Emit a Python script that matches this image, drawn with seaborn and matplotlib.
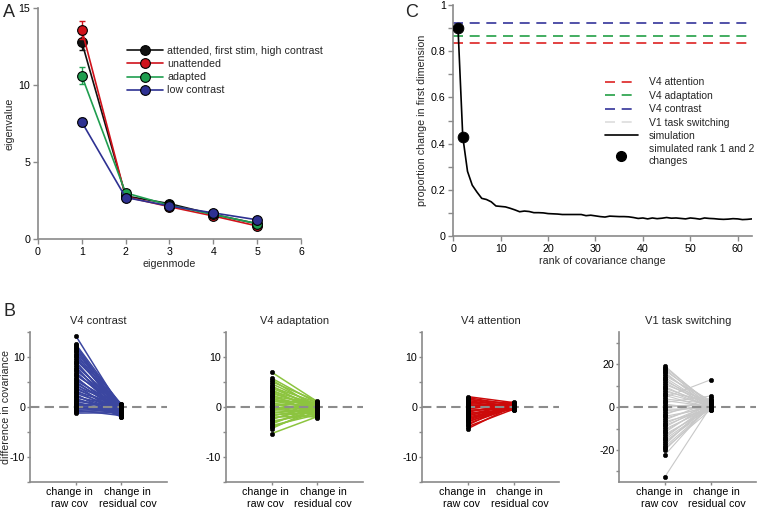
import numpy as np
import pandas as pd
import matplotlib
matplotlib.use('Agg')
import matplotlib.pyplot as plt
import matplotlib.transforms as mtransforms
from matplotlib.lines import Line2D
import seaborn as sns

# ---- panel A: eigenvalues per eigenmode ----
eigenmodes = [1, 2, 3, 4, 5]
eig_attended = [12.8, 2.8, 2.3, 1.6, 1.0]
eig_unattended = [13.6, 2.75, 2.1, 1.5, 0.85]
eig_adapted = [10.6, 3.0, 2.2, 1.6, 1.0]
eig_lowcontrast = [7.6, 2.7, 2.15, 1.7, 1.25]
sem_attended = [0.5, 0.1, 0.1, 0.1, 0.1]
sem_unattended = [0.6, 0.1, 0.1, 0.1, 0.1]
sem_adapted = [0.55, 0.1, 0.1, 0.1, 0.1]
sem_lowcontrast = [0.25, 0.1, 0.1, 0.1, 0.1]

# ---- panel C: simulation ----
ranks = list(range(1, 64))
sim_prop = [0.90, 0.43, 0.28, 0.22, 0.19, 0.163, 0.158, 0.148, 0.13, 0.128,
            0.126, 0.12, 0.113, 0.105, 0.108, 0.106, 0.101, 0.101, 0.100, 0.097,
            0.096, 0.095, 0.093, 0.093, 0.093, 0.093, 0.093, 0.088, 0.090, 0.087,
            0.084, 0.082, 0.086, 0.085, 0.084, 0.084, 0.083, 0.080, 0.076, 0.078,
            0.074, 0.078, 0.075, 0.077, 0.080, 0.077, 0.078, 0.076, 0.074, 0.078,
            0.076, 0.073, 0.078, 0.076, 0.075, 0.073, 0.072, 0.073, 0.075, 0.074,
            0.071, 0.072, 0.074]
sim_dot_ranks = [1, 2]
sim_dot_prop = [0.90, 0.43]
data_levels = {'V4 attention': 0.837, 'V4 adaptation': 0.867,
               'V4 contrast': 0.922, 'V1 task switching': None}

# ---- panel B: paired changes (raw cov -> residual cov) ----
raw_contrast = [14.3, 12.6, 12.4, 12.1, 11.8, 11.5, 11.2, 10.9, 10.5, 10.2,
                9.8, 9.5, 9.1, 8.8, 8.4, 8.1, 7.7, 7.4, 7.0, 6.7,
                6.4, 6.0, 5.7, 5.4, 5.1, 4.8, 4.5, 4.2, 3.9, 3.6,
                3.3, 3.0, 2.8, 2.5, 2.2, 2.0, 1.7, 1.5, 1.2, 1.0,
                0.8, 0.6, 0.4, 0.2, 0.1, 0.0, -0.2, -0.4, -0.6, -0.8,
                -1.0, -1.2]
res_contrast = [-0.4, 0.3, -0.8, 0.1, -1.2, 0.5, -0.3, -1.6, 0.2, -0.9,
                -0.1, 0.6, -1.4, -0.5, 0.0, -1.9, -0.7, 0.4, -1.1, -0.2,
                0.7, -1.5, -0.6, 0.1, -1.0, -0.3, -1.8, 0.3, -0.8, -0.1,
                -1.3, 0.5, -0.4, -2.0, -0.7, 0.2, -1.2, -0.5, 0.0, -1.6,
                -0.9, 0.4, -0.2, -1.4, -0.6, 0.1, -1.0, -0.3, -1.7, -0.8,
                -0.4, -1.1]
raw_adapt = [7.0, 5.8, 5.5, 5.1, 4.7, 4.3, 4.0, 3.8, 3.5, 3.2,
             3.0, 2.7, 2.5, 2.2, 2.0, 1.8, 1.5, 1.3, 1.1, 0.9,
             0.7, 0.5, 0.3, 0.1, -0.1, -0.3, -0.5, -0.7, -0.9, -1.1,
             -1.3, -1.5, -1.8, -2.0, -2.3, -2.5, -2.8, -3.1, -3.4, -3.7,
             -4.0, -4.3, -5.3]
res_adapt = [1.1, 0.8, -0.2, 1.2, 0.4, -0.6, 0.9, 0.1, -1.0, 0.6,
             -0.3, 0.3, -1.4, 0.7, 0.0, -0.8, 0.5, -0.4, 1.0, -1.2,
             0.2, -0.7, 0.8, -1.6, -0.1, 0.4, -0.9, 0.6, -2.1, -0.5,
             0.3, -1.1, 0.0, -1.8, -0.3, 0.5, -1.3, -0.6, 0.2, -1.5,
             -0.9, -0.2, -1.9]
raw_att = [2.1, 1.9, 1.7, 1.5, 1.3, 1.1, 0.9, 0.7, 0.5, 0.3,
           0.2, 0.0, -0.2, -0.4, -0.6, -0.8, -1.0, -1.2, -1.4, -1.6,
           -1.8, -2.0, -2.2, -2.4, -2.6, -2.8, -3.0, -3.3, -3.6, -3.9,
           -4.3]
res_att = [0.9, 0.4, -0.2, 0.7, 0.1, -0.5, 0.8, 0.3, -0.1, 0.6,
           0.0, -0.4, 0.5, 1.0, -0.3, 0.2, 0.7, -0.6, 0.4, -0.1,
           0.8, 0.1, -0.3, 0.6, 0.3, -0.2, 0.5, 0.0, 0.9, -0.4,
           0.2]
raw_v1 = [19.2, 18.5, 17.8, 17.0, 16.2, 15.5, 14.6, 13.8, 13.0, 12.1,
          11.3, 10.5, 9.6, 8.8, 8.0, 7.1, 6.3, 5.5, 4.6, 3.8,
          3.0, 2.2, 1.4, 0.6, -0.2, -1.0, -1.8, -2.7, -3.5, -4.3,
          -5.2, -6.0, -6.8, -7.7, -8.5, -9.3, -10.2, -11.0, -11.8, -12.7,
          -13.5, -14.3, -15.1, -16.0, -16.8, -17.6, -18.5, -19.3, -20.0, -22.3,
          -32.5]
res_v1 = [0.8, 1.5, 0.2, 2.4, -0.5, 1.1, 3.1, 0.4, -1.0, 1.8,
          0.6, 2.2, -0.3, 1.3, 0.0, 2.8, 0.9, -0.8, 12.8, 1.6,
          0.3, 5.2, -1.3, 1.0, 2.0, -0.6, 0.5, 1.4, 4.3, -0.2,
          0.7, 2.6, -1.1, 1.2, 0.1, 1.9, -0.4, 0.9, 2.3, -0.9,
          0.4, 1.7, 0.0, -0.7, 1.1, 2.9, 0.2, -1.2, 0.6, 1.5,
          0.3]
pair_categories = ['change in\nraw cov', 'change in\nresidual cov']
v4_yticks = [-15, -10, -5, 0, 5, 10, 15]
v4_ylabels = ['', '-10', '', '0', '', '10', '']
v1_yticks = [-30, -20, -10, 0, 10, 20, 30]
v1_ylabels = ['', '-20', '', '0', '', '20', '']

sns.set_style('ticks')
plt.rcParams['font.family'] = ['Liberation Sans', 'DejaVu Sans']
plt.rcParams['font.size'] = 7.7
AX_GRAY = '#8a8a8a'
FS = 7.7


def style_axis(ax, pad=2, length=3.5):
    sns.despine(ax=ax)
    for side in ['left', 'bottom']:
        ax.spines[side].set_color(AX_GRAY)
        ax.spines[side].set_linewidth(1.2)
    ax.tick_params(colors=AX_GRAY, labelcolor='black', length=length, width=1,
                   labelsize=FS, pad=pad)


fig = plt.figure(figsize=(7.58, 5.13), dpi=100)

# ---------------- A ----------------
axA = fig.add_axes([0.0501, 0.534, 0.347, 0.450])
a_series = [
    ('attended, first stim, high contrast', eig_attended, sem_attended, '#111111'),
    ('unattended', eig_unattended, sem_unattended, '#d0121b'),
    ('adapted', eig_adapted, sem_adapted, '#1f9e4f'),
    ('low contrast', eig_lowcontrast, sem_lowcontrast, '#2e3192'),
]
for label, vals, sem, col in a_series:
    axA.errorbar(eigenmodes, vals, yerr=sem, fmt='none', ecolor=col,
                 capsize=2.5, elinewidth=1, capthick=1)
    sns.lineplot(x=eigenmodes, y=vals, ax=axA, color=col, lw=1.2, marker='o',
                 markersize=7, markeredgecolor='black', markeredgewidth=0.8,
                 label=label)
axA.set_xlim(0, 6)
axA.set_ylim(0, 15)
axA.set_xticks(range(0, 7))
axA.set_yticks([0, 5, 10, 15])
axA.set_xlabel('eigenmode', fontsize=FS, labelpad=2)
axA.set_ylabel('eigenvalue', fontsize=FS, labelpad=3)
style_axis(axA)
axA.legend(loc='upper left', bbox_to_anchor=(0.32, 0.86), frameon=False,
           fontsize=FS, handlelength=3.3, handletextpad=0.4, labelspacing=0.3,
           borderpad=0)

# ---------------- C ----------------
axC = fig.add_axes([0.598, 0.540, 0.394, 0.450])
level_colors = {'V4 attention': '#dd2222', 'V4 adaptation': '#22a045',
                'V4 contrast': '#333399', 'V1 task switching': '#dddddd'}
handles = []
for name, lvl in data_levels.items():
    col = level_colors[name]
    if lvl is not None:
        axC.axhline(lvl, xmin=0, xmax=62 / 63, color=col, lw=1.2,
                    dashes=(6, 4))
    handles.append(Line2D([], [], color=col, lw=1.2, dashes=(6, 4), label=name))
sns.lineplot(x=ranks, y=sim_prop, ax=axC, color='black', lw=1.2)
sns.scatterplot(x=sim_dot_ranks, y=sim_dot_prop, ax=axC, color='black', s=60,
                edgecolor='black', zorder=4)
handles.append(Line2D([], [], color='black', lw=1.2, label='simulation'))
handles.append(Line2D([], [], color='black', marker='o', markersize=7, lw=0,
                      label='simulated rank 1 and 2\nchanges'))
axC.set_xlim(0, 63)
axC.set_ylim(0, 1)
axC.set_xticks(range(0, 61, 10))
axC.set_yticks([0, 0.1, 0.2, 0.3, 0.4, 0.5, 0.6, 0.7, 0.8, 0.9, 1.0])
axC.set_yticklabels(['0', '', '0.2', '', '0.4', '', '0.6', '', '0.8', '', '1'])
axC.set_xlabel('rank of covariance change', fontsize=FS, labelpad=2)
axC.set_ylabel('proportion change in first dimension', fontsize=FS, labelpad=3)
style_axis(axC)
axC.legend(handles=handles, loc='upper left', bbox_to_anchor=(0.49, 0.71),
           frameon=False, fontsize=7.5, handlelength=3.2, handletextpad=1.0,
           labelspacing=0.33, borderpad=0)

# ---------------- B ----------------
b_panels = [
    ('V4 contrast', raw_contrast, res_contrast, '#3b46a0', 0.0396, 15, v4_yticks, v4_ylabels, 1.1),
    ('V4 adaptation', raw_adapt, res_adapt, '#8cc43f', 0.298, 15, v4_yticks, v4_ylabels, 1.1),
    ('V4 attention', raw_att, res_att, '#cc0a0a', 0.557, 15, v4_yticks, v4_ylabels, 1.1),
    ('V1 task switching', raw_v1, res_v1, '#c8c8c8', 0.817, 35, v1_yticks, v1_ylabels, 0.8),
]
for i, (title, raw, res, col, left, lim, yt, ylab, lw) in enumerate(b_panels):
    ax = fig.add_axes([left, 0.0604, 0.181, 0.292])
    n = len(raw)
    df = pd.DataFrame({
        'pair': list(range(n)) * 2,
        'pos': [1] * n + [2] * n,
        'value': list(raw) + list(res),
    })
    sns.lineplot(data=df, x='pos', y='value', units='pair', estimator=None,
                 ax=ax, color=col, lw=lw, legend=False)
    ax.axhline(0, color='#8c8c8c', lw=1.5, dashes=(4.5, 2.5), zorder=3)
    sns.scatterplot(data=df, x='pos', y='value', ax=ax, color='black', s=10,
                    edgecolor='black', linewidth=0.4, zorder=4, legend=False)
    ax.set_xlim(0, 3)
    ax.set_ylim(-lim, lim)
    ax.set_xticks([1, 2])
    ax.set_xticklabels(pair_categories, fontsize=FS, linespacing=1.3)
    ax.set_yticks(yt)
    ax.set_yticklabels(ylab)
    ax.set_xlabel('')
    ax.set_ylabel('difference in covariance' if i == 0 else '', fontsize=FS)
    ax.yaxis.set_label_coords(-0.14, 0.5)
    ax.set_title(title, fontsize=FS + 0.3, pad=6)
    style_axis(ax, pad=1, length=2.5)
    # spread the two category labels apart a little, as in the original
    for lab, dx in zip(ax.get_xticklabels(), [-6, 6]):
        lab.set_transform(lab.get_transform() +
                          mtransforms.ScaledTranslation(dx / 100, 0, fig.dpi_scale_trans))

fig.text(0.004, 0.992, 'A', fontsize=13, va='top', ha='left')
fig.text(0.535, 0.992, 'C', fontsize=13, va='top', ha='left')
fig.text(0.004, 0.41, 'B', fontsize=13, va='top', ha='left')

fig.savefig('out.png', dpi=100)
